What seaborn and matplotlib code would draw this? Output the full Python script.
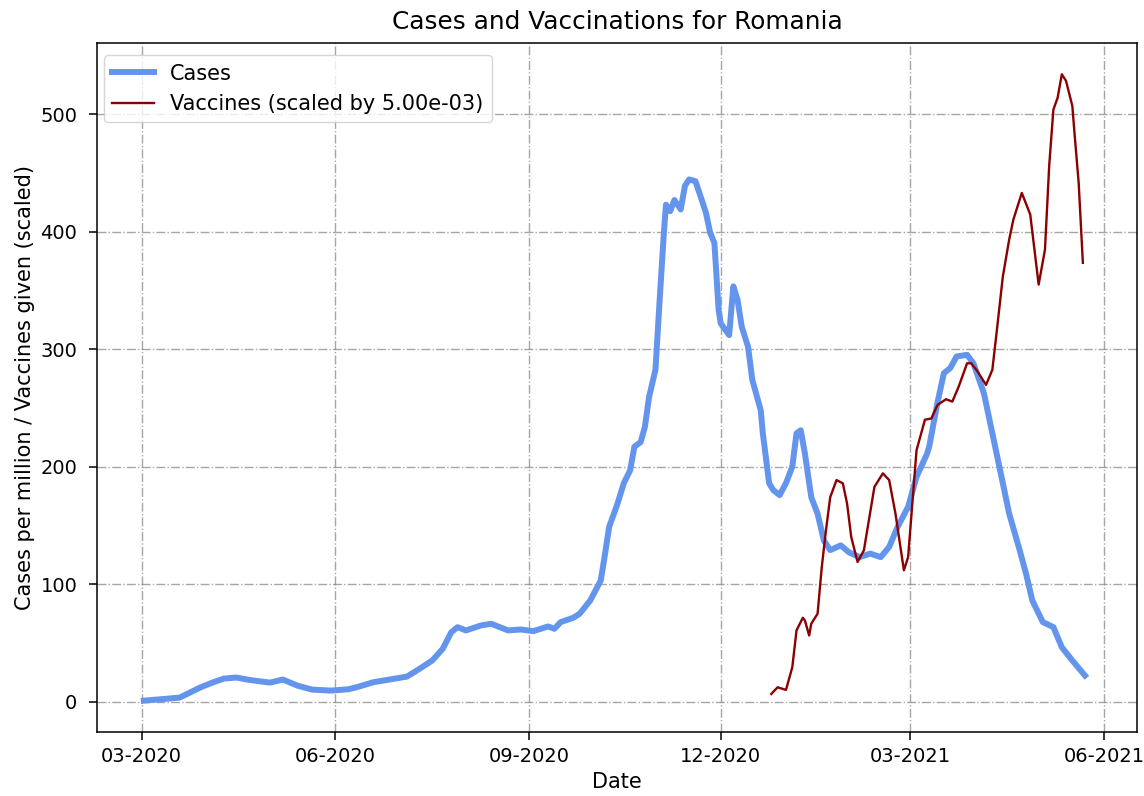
import datetime as dt

import matplotlib
matplotlib.use("Agg")
import matplotlib.pyplot as plt
import matplotlib.dates as mdates
import pandas as pd
import seaborn as sns

START = dt.date(2020, 3, 1)
COUNTRY = "Romania"

# New cases per million (smoothed), keyed by days since START
case_days = [1, 18, 28, 34, 39, 45, 50, 56, 61, 67, 74, 81, 90, 98, 102, 110, 119,
             126, 132, 138, 143, 145, 147, 150, 154, 161, 166, 174, 180, 186, 193,
             196, 199, 205, 208, 213, 218, 220, 222, 226, 229, 232, 234, 237, 239,
             241, 244, 246, 248, 249, 251, 253, 256, 258, 260, 263, 266, 268, 270,
             272, 274, 275, 279, 281, 283, 285, 288, 290, 294, 295, 298, 300, 303,
             306, 309, 311, 313, 315, 318, 321, 324, 327, 332, 336, 341, 346, 351,
             355, 359, 364, 368, 373, 374, 378, 381, 384, 387, 392, 395, 400, 404,
             409, 412, 417, 420, 423, 428, 433, 437, 442, 448]
cases = [0.8, 3.4, 12.2, 16.5, 19.6, 20.5, 18.8, 17.3, 16.2, 18.8, 13.6, 10.2, 9.4,
         10.5, 12.2, 16.5, 19.2, 21.3, 28.0, 35.0, 45.0, 52.0, 59.0, 63.4, 60.6, 64.8,
         66.3, 60.6, 61.4, 60.0, 64.0, 62.0, 67.7, 71.4, 74.8, 86.0, 103.0, 125.0,
         148.7, 168.6, 186.0, 197.0, 217.0, 221.0, 234.0, 259.6, 282.4, 342.0, 399.0,
         423.0, 417.5, 427.0, 419.0, 439.0, 444.5, 443.0, 427.0, 416.0, 399.0, 390.5,
         333.6, 322.0, 312.0, 353.5, 342.0, 319.0, 302.0, 274.0, 248.0, 228.4, 185.8,
         180.0, 175.8, 186.0, 200.0, 228.4, 231.0, 211.0, 174.0, 160.0, 137.0, 129.0,
         133.0, 127.0, 123.0, 126.0, 123.0, 131.7, 148.7, 165.8, 191.4, 211.0, 217.0,
         255.0, 279.6, 283.9, 293.8, 295.2, 288.0, 262.5, 228.4, 185.8, 160.0, 128.8,
         109.0, 86.0, 67.7, 63.4, 46.3, 35.0, 22.2]

# Daily vaccinations (smoothed), keyed by days since START
vacc_days = [299, 302, 306, 309, 311, 314, 315, 317, 318, 321, 323, 325, 327, 330,
             333, 335, 337, 340, 343, 348, 352, 355, 358, 362, 364, 368, 372, 375,
             378, 382, 385, 388, 392, 394, 397, 400, 401, 404, 406, 409, 412, 414,
             418, 422, 424, 426, 429, 431, 433, 435, 437, 439, 442, 443, 445, 447]
vaccines = [1300, 2440, 2000, 5860, 12120, 14280, 13800, 11260, 13260, 14960, 22920,
            29200, 34800, 37720, 37160, 33740, 28000, 23780, 25760, 36560, 38860,
            37720, 32000, 22360, 24600, 42800, 48000, 48200, 50520, 51480, 51080,
            53600, 57600, 57600, 56200, 54480, 53920, 56480, 62740, 72400, 78660,
            82080, 86600, 82940, 76960, 71000, 76960, 91200, 100800, 102800, 106800,
            105680, 101400, 96880, 88340, 74700]
VACC_SCALE = 5e-3

start = pd.Timestamp(START)
cases_df = pd.DataFrame({
    "date": start + pd.to_timedelta(case_days, unit="D"),
    "value": cases,
})
vacc_df = pd.DataFrame({
    "date": start + pd.to_timedelta(vacc_days, unit="D"),
    "value": [v * VACC_SCALE for v in vaccines],
})

fig = plt.figure(figsize=(11.44, 7.96), dpi=100)
ax = fig.add_subplot(111)
fig.subplots_adjust(left=0.0852, right=0.9935, top=0.946, bottom=0.0804)

sns.lineplot(data=cases_df, x="date", y="value", ax=ax, color="cornflowerblue",
             linewidth=4.3, label="Cases")
sns.lineplot(data=vacc_df, x="date", y="value", ax=ax, color="darkred",
             linewidth=1.7, label=f"Vaccines (scaled by {VACC_SCALE:.2e})")

# Date axis padded around the data range
ax.set_xlim(start - pd.Timedelta(days=21), start + pd.Timedelta(days=472.5))
ax.xaxis.set_major_locator(mdates.MonthLocator(bymonth=[3, 6, 9, 12]))
ax.xaxis.set_major_formatter(mdates.DateFormatter("%m-%Y"))
ax.grid(True, linestyle="-.", color="gray", alpha=0.7, linewidth=1.0)
ax.set_title(f"Cases and Vaccinations for {COUNTRY}", fontsize=17.8, pad=10)
ax.set_xlabel("Date", fontsize=15)
ax.set_ylabel("Cases per million / Vaccines given (scaled)", fontsize=15)
ax.tick_params(labelsize=14, length=5.5, width=1.1, pad=5.5)
ax.tick_params(axis="y", pad=9)
for side in ax.spines.values():
    side.set_linewidth(1.1)
ax.legend(loc="upper left", fontsize=15, bbox_to_anchor=(0.006, 0.982),
          borderaxespad=0, labelspacing=0.5)

fig.savefig("out.png", dpi=100)
